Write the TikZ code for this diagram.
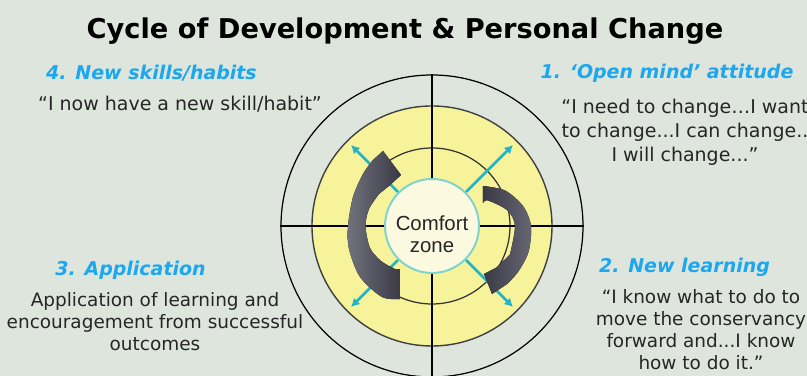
\documentclass[tikz,border=0pt]{standalone}
\usepackage{fontspec}
\setmainfont{DejaVu Sans}
\newfontfamily\zonefont{Liberation Sans}
\usetikzlibrary{arrows.meta}
\definecolor{paper}{HTML}{DDE5DC}
\definecolor{discyellow}{HTML}{F7F39B}
\definecolor{zonecream}{HTML}{FBF9E0}
\definecolor{zoneteal}{HTML}{7ED2CF}
\definecolor{spokecyan}{HTML}{22B3C6}
\definecolor{stageblue}{HTML}{1CA7EE}
\definecolor{inkgrey}{HTML}{262626}
\definecolor{swooshdark}{HTML}{3A3A47}
\definecolor{swooshlight}{HTML}{72727D}
\pgfdeclarelayer{baselayer}
\pgfdeclarelayer{edgelayer}
\pgfdeclarelayer{nodelayer}
\pgfsetlayers{baselayer,edgelayer,nodelayer,main}
\tikzstyle{none}=[inner sep=0pt]
\tikzstyle{edge}=[draw=black, line width=0.35pt]
\tikzstyle{ring}=[circle, draw=black, line width=0.35pt, inner sep=0pt]
\tikzstyle{disc}=[circle, fill=discyellow, draw=black!75, line width=0.4pt, inner sep=0pt]
\tikzstyle{zone}=[circle, fill=zonecream, draw=zoneteal, line width=0.55pt, inner sep=0pt]
\tikzstyle{zonetext}=[inner sep=0pt, align=center, text=black!85, font=\zonefont\fontsize{5.8}{6.3}\selectfont]
\tikzstyle{spoke}=[draw=spokecyan, line width=0.75pt, -{Latex[length=2.4pt,width=2.6pt]}]
\tikzstyle{swoosh}=[left color=swooshlight, right color=swooshdark]
\tikzstyle{title}=[inner sep=0pt, anchor=base, font=\bfseries\fontsize{7.75}{9}\selectfont]
\tikzstyle{stage}=[inner sep=0pt, text=stageblue, font=\bfseries\itshape\fontsize{5.4}{6.5}\selectfont]
\tikzstyle{quote}=[inner sep=0pt, align=center, text=inkgrey, font=\fontsize{5.4}{6.9}\selectfont]
\tikzstyle{notes}=[inner sep=0pt, align=center, text=inkgrey, font=\fontsize{5.25}{6.25}\selectfont]

\begin{document}
\begin{tikzpicture}
			\useasboundingbox (0, 0) rectangle (8.07, 3.76);
			\begin{pgfonlayer}{baselayer}
			\fill [paper] (0, 0) rectangle (8.07, 3.76);
			\node [style=ring, minimum size=3.02cm] (0) at (4.32, 1.5) {};
			\node [style=disc, minimum size=2.4cm] (1) at (4.32, 1.5) {};
			\node [style=ring, draw=black!80, minimum size=1.56cm] (2) at (4.32, 1.5) {};
			\end{pgfonlayer}
			\begin{pgfonlayer}{nodelayer}
			\node [style=zone, minimum size=0.94cm] (3) at (4.32, 1.5) {};
			\node [style=zonetext] (4) at (4.32, 1.42) {Comfort\\zone};
			\coordinate (5) at (5.13, 2.31);
			\coordinate (6) at (3.51, 2.31);
			\coordinate (7) at (3.51, 0.69);
			\coordinate (8) at (5.13, 0.69);
			\node [style=title] (10) at (4.05, 3.37) {Cycle of Development \& Personal Change};
			\node [style=stage] (11) at (1.515, 3.03) {4. New skills/habits};
			\node [style=quote] (12) at (1.8, 2.72) {“I now have a new skill/habit”};
			\node [style=stage] (13) at (6.67, 3.03) {1. ‘Open mind’ attitude};
			\node [style=quote] (14) at (6.85, 2.435) {“I need to change…I want\\to change...I can change..\\I will change...”};
			\node [style=stage] (15) at (1.305, 1.06) {3. Application};
			\node [style=notes] (16) at (1.55, 0.54) {Application of learning and\\encouragement from successful\\outcomes};
			\node [style=stage] (17) at (6.845, 1.09) {2. New learning};
			\node [style=notes] (18) at (7.01, 0.46) {“I know what to do to\\move the conservancy\\forward and...I know\\how to do it.”};
			\end{pgfonlayer}
			\begin{pgfonlayer}{edgelayer}
			\draw [style=edge] (0.north) to (0.south);
			\draw [style=edge] (0.west) to (0.east);
			\draw [style=spoke] (3.north east) to (5);
			\draw [style=spoke] (3.north west) to (6);
			\draw [style=spoke] (3.south west) to (7);
			\draw [style=spoke] (3.south east) to (8);
			\end{pgfonlayer}
			% left swoosh, bottom tail up to the head at the top
			\fill [style=swoosh] (4, 1.07) -- (4, 0.77)
				-- plot [smooth] coordinates {(4, 0.77) (3.82, 0.79) (3.6, 0.99) (3.49, 1.27) (3.48, 1.5) (3.53, 1.79) (3.63, 2.02) (3.73, 2.16)}
				-- (3.83, 2.25) -- (4.01, 2.01) -- (3.89, 1.9)
				-- plot [smooth] coordinates {(3.79, 1.82) (3.69, 1.67) (3.655, 1.5) (3.7, 1.28) (3.81, 1.15) (3.95, 1.07) (4, 1.07)}
				-- cycle;
			% right swoosh, top tail down to the head at the bottom
			\fill [style=swoosh, left color=swooshdark, right color=swooshlight!80!swooshdark] (4.83, 1.73) -- (4.83, 1.9)
				-- plot [smooth] coordinates {(4.83, 1.9) (5.05, 1.855) (5.23, 1.7) (5.31, 1.5) (5.285, 1.24) (5.18, 1.04) (5.065, 0.915)}
				-- (4.92, 0.82) -- (4.84, 1.02) -- (4.965, 1.085)
				-- plot [smooth] coordinates {(5.1, 1.215) (5.15, 1.5) (5.075, 1.655) (4.88, 1.755) (4.83, 1.73)}
				-- cycle;
\end{tikzpicture}
\end{document}
